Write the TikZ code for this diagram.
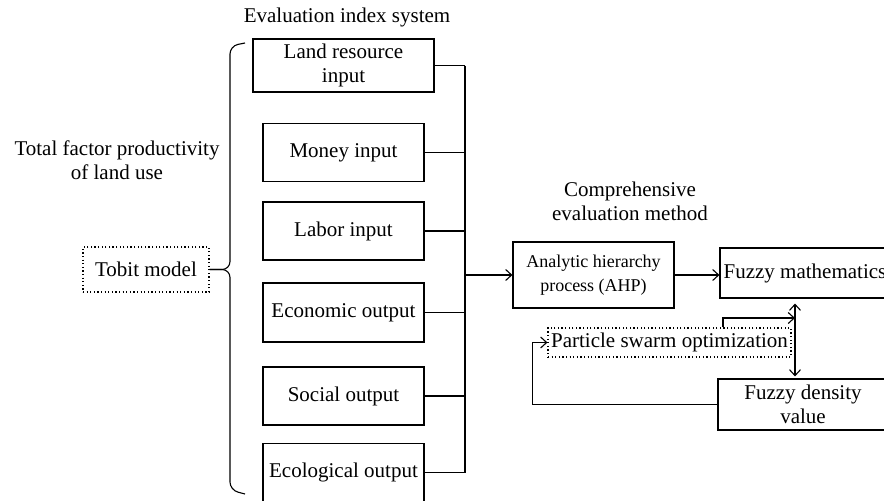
\documentclass[tikz,border=0pt]{standalone}
\usepackage{fontspec}
\setmainfont{Liberation Serif}
\usetikzlibrary{math,arrows.meta}

\begin{document}
\begin{tikzpicture}[x=0.5pt, y=-0.5pt, line width=0.55pt,
  font=\fontsize{10.5}{12}\selectfont,
  >={Straight Barb[length=3pt,width=5.5pt]},
  box/.style={draw, align=center, inner sep=1pt},
  dotbox/.style={draw, dash pattern=on 0.6pt off 1.2pt, align=center, inner sep=1pt}]
  \tikzmath{\bx = 465; \jx = 795;}
  \useasboundingbox (0, 0) rectangle (884, 500);

  % titles
  \node[align=center] (evalsys) at (347, 17) {Evaluation index system};
  \node[align=center] (tfp) at (117, 160) {Total factor productivity\\of land use};
  \node[align=center] (cem) at (630, 201) {Comprehensive\\evaluation method};

  % index system
  \node[box, minimum width=90.5pt, minimum height=26.5pt] (land) at (343.5, 65.5) {Land resource\\input};
  \node[box, minimum width=80.5pt, minimum height=29pt] (money) at (343.5, 152.5) {Money input};
  \node[box, minimum width=80.5pt, minimum height=29pt] (labor) at (343.5, 231) {Labor input};
  \node[box, minimum width=80.5pt, minimum height=29.5pt] (econ) at (343.5, 312.5) {Economic output};
  \node[box, minimum width=80.5pt, minimum height=29pt] (social) at (343.5, 396) {Social output};
  \node[box, minimum width=80.5pt, minimum height=29pt] (ecol) at (343.5, 472.5) {Ecological output};
  \node[dotbox, minimum width=63pt, minimum height=22.5pt] (tobit) at (146, 269.5) {Tobit model};

  % brace
  \draw[rounded corners=4pt] (245, 43) -- (230, 46) -- (230, 269.5) -- (tobit.east);
  \draw[rounded corners=4pt] (tobit.east) -- (230, 269.5) -- (230, 490) -- (245, 494);

  % bus
  \coordinate (bus) at (\bx, 0);
  \foreach \n in {land, money, labor, econ, social, ecol}
    \draw (\n.east) -- (\n.east -| bus);
  \draw (land.east -| bus) -- (ecol.east -| bus);

  % evaluation method
  \node[box, minimum width=80.5pt, minimum height=33pt] (ahp) at (593.5, 275) {\fontsize{9}{11}\selectfont Analytic hierarchy\\\fontsize{9}{11}\selectfont process (AHP)};
  \node[box, minimum width=85pt, minimum height=25pt] (fm) at (805, 273) {Fuzzy mathematics};
  \node[box, minimum width=85pt, minimum height=25.5pt] (fd) at (803, 404.5) {Fuzzy density\\value};
  \node[dotbox, minimum width=121.5pt, minimum height=14.5pt] (pso) at (669.5, 342.5) {Particle swarm optimization};

  \coordinate (busout) at (\bx, 275);
  \coordinate (joint) at (\jx, 318);
  \draw[->] (busout) -- (ahp.west);
  \draw[->] (ahp.east) -- (ahp.east -| fm.west);
  \draw[<->, shorten <=2.5pt, shorten >=1pt] (fm.south -| joint) -- (fd.north -| joint);
  \draw[->] ([xshift=26.75pt]pso.north) |- (joint);
  \draw[->] (fd.west) -- ++(-185, 0) |- (pso.west);
\end{tikzpicture}
\end{document}
